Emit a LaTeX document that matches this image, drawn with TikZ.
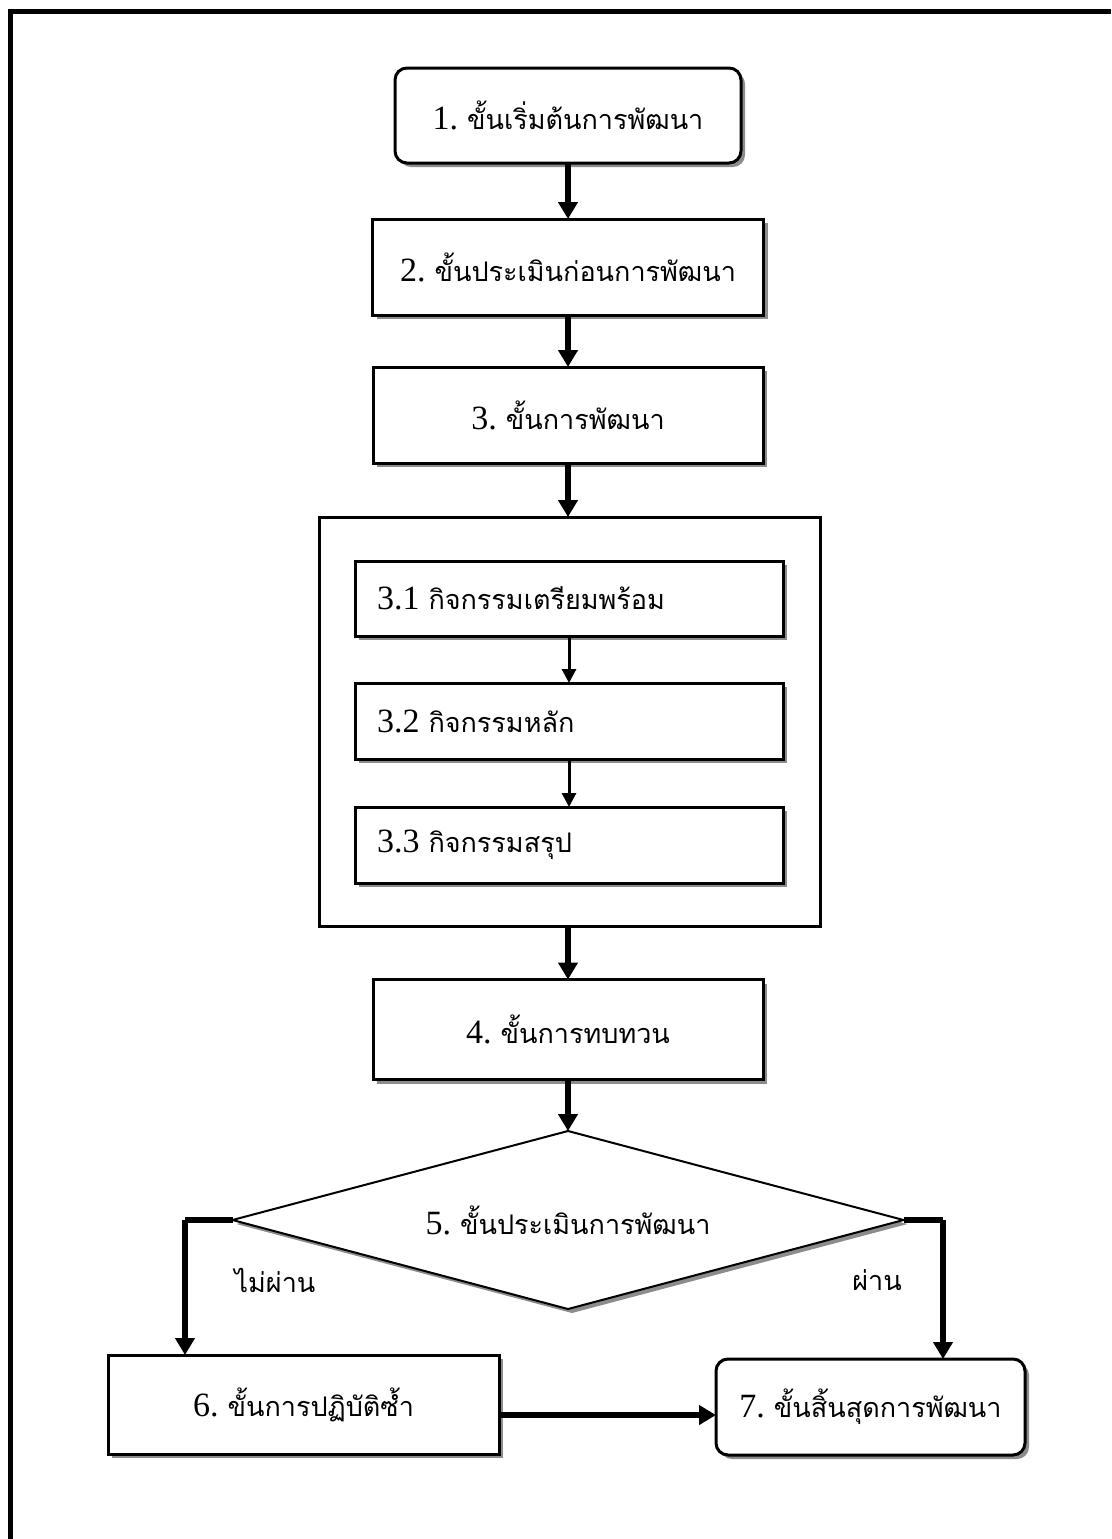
\documentclass[tikz,border=0pt]{standalone}
\usepackage{fontspec}
\setmainfont{Liberation Serif}
\newfontfamily\thaifont[Script=Thai]{Loma}
\usetikzlibrary{shapes.geometric,shadows,arrows.meta,calc}
\newcommand{\lbl}[2]{{\fontsize{34}{40}\selectfont #1}\kern9pt{\fontsize{27}{34}\thaifont #2}}
\newcommand{\thtxt}[1]{{\fontsize{27}{34}\thaifont #1}}
\tikzset{
  shad/.style={drop shadow={shadow xshift=4pt, shadow yshift=-4pt, fill=black!45, opacity=1}},
  box/.style={draw, line width=3pt, fill=white, inner sep=0pt, outer sep=0pt, shad},
  rbox/.style={box, rounded corners=12pt},
  subbox/.style={box, minimum width=428pt, minimum height=75pt, text width=384pt, align=left, inner xsep=22pt},
  contbox/.style={draw, line width=3pt, inner sep=0pt, outer sep=0pt},
  decbox/.style={diamond, draw, line width=2pt, fill=white, aspect=3.77, inner sep=0pt, outer sep=0pt, shad},
  bigarrow/.style={line width=6pt, -{Triangle[width=19pt,length=17pt]}},
  smallarrow/.style={line width=3pt, -{Triangle[width=14pt,length=14pt]}},
  bigline/.style={line width=6pt},
  frameline/.style={line width=5pt, line join=miter},
  plain/.style={inner sep=0pt}
}
\begin{document}
\begin{tikzpicture}[x=1pt,y=-1pt]
\useasboundingbox (0,0) rectangle (1111,1539);
\fill[white] (0,0) rectangle (1111,1539);
\draw[frameline] (10.5,1539) -- (10.5,11.5) -- (1111,11.5);

\node[rbox, minimum width=346pt, minimum height=95pt] (n1) at (568,115.5) {\lbl{1.}{ขั้นเริ่มต้นการพัฒนา}};
\node[box, minimum width=391pt, minimum height=96pt] (n2) at (568,267) {\lbl{2.}{ขั้นประเมินก่อนการพัฒนา}};
\node[box, minimum width=390pt, minimum height=96pt] (n3) at (568,415) {\lbl{3.}{ขั้นการพัฒนา}};
\node[contbox, minimum width=501pt, minimum height=409pt] (cont) at (569.5,721.5) {};
\node[subbox] (n31) at (569,598.5) {\lbl{3.1}{กิจกรรมเตรียมพร้อม}};
\node[subbox, minimum height=76pt] (n32) at (569,721) {\lbl{3.2}{กิจกรรมหลัก}};
\node[subbox, minimum height=76pt] (n33) at (569,845) {\lbl{3.3}{กิจกรรมสรุป}};
\node[box, minimum width=390pt, minimum height=100pt] (n4) at (568,1029.5) {\lbl{4.}{ขั้นการทบทวน}};
\node[decbox, minimum width=671pt, minimum height=178pt] (n5) at (568,1220) {\lbl{5.}{ขั้นประเมินการพัฒนา}};
\node[box, minimum width=391pt, minimum height=99pt] (n6) at (303.5,1404.5) {\lbl{6.}{ขั้นการปฏิบัติซ้ำ}};
\node[rbox, minimum width=309pt, minimum height=96pt] (n7) at (870.5,1407) {\lbl{7.}{ขั้นสิ้นสุดการพัฒนา}};

\node[plain] (lno) at (275,1280) {\thtxt{ไม่ผ่าน}};
\node[plain] (lyes) at (877,1280) {\thtxt{ผ่าน}};

\draw[bigarrow] (n1.south) -- (n1.south |- n2.north);
\draw[bigarrow] (n2.south) -- (n2.south |- n3.north);
\draw[bigarrow] (n3.south) -- (n3.south |- cont.north);
\draw[smallarrow] (n31.south) -- (n31.south |- n32.north);
\draw[smallarrow] (n32.south) -- (n32.south |- n33.north);
\draw[bigarrow] (n3.south |- cont.south) -- (n3.south |- n4.north);
\draw[bigarrow] (n4.south) -- (n4.south |- n5.north);

\coordinate (lturn) at (185,1220);
\coordinate (rturn) at (943,1220);
\draw[bigline] (n5.west) -- (lturn);
\draw[bigarrow] (lturn) -- (lturn |- n6.north);
\draw[bigline] (n5.east) -- (rturn);
\draw[bigarrow] (rturn) -- (rturn |- n7.north);

\coordinate (a6) at ($(n6.east)+(0,10.5)$);
\draw[bigarrow] (a6) -- (a6 -| n7.west);
\end{tikzpicture}
\end{document}
